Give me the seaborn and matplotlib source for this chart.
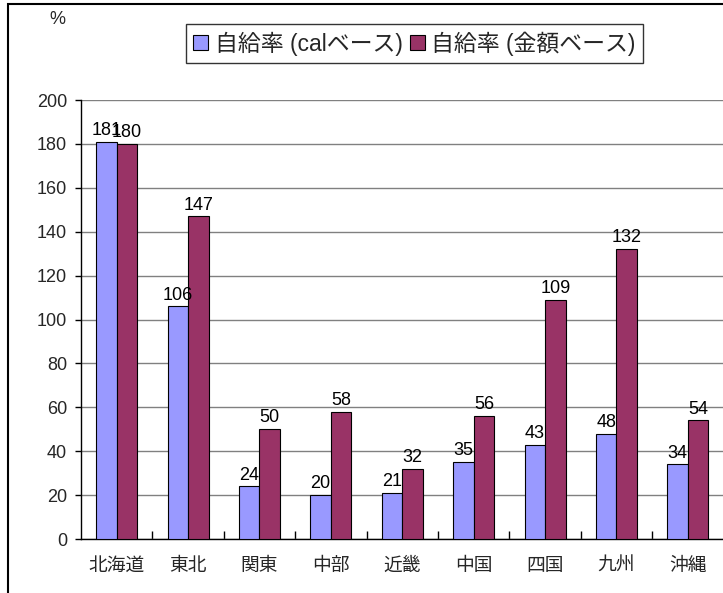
import matplotlib
matplotlib.use("Agg")
import matplotlib.pyplot as plt
from matplotlib.patches import Rectangle
import pandas as pd
import seaborn as sns

# Food self-sufficiency by region (%)
regions = ["北海道", "東北", "関東", "中部", "近畿", "中国", "四国", "九州", "沖縄"]
series_names = ["自給率 (calベース)", "自給率 (金額ベース)"]
cal_basis = [181, 106, 24, 20, 21, 35, 43, 48, 34]
value_basis = [180, 147, 50, 58, 32, 56, 109, 132, 54]
y_ticks = [0, 20, 40, 60, 80, 100, 120, 140, 160, 180, 200]
colors = ["#9999FF", "#993366"]

df = pd.DataFrame({
    "region": regions * 2,
    "value": cal_basis + value_basis,
    "series": [series_names[0]] * len(regions) + [series_names[1]] * len(regions),
})

sns.set_style("white")
plt.rcParams["font.family"] = ["Liberation Sans", "Noto Sans CJK JP"]

W, H = 723, 593
fig = plt.figure(figsize=(W / 100, H / 100), dpi=100)
ax = fig.add_axes([81 / W, (H - 539) / H, 642.5 / W, 439 / H])

sns.barplot(data=df, x="region", y="value", hue="series", order=regions,
            hue_order=series_names, palette=colors, saturation=1,
            width=0.574, gap=0, edgecolor="black", linewidth=0.8, ax=ax,
            zorder=3)

for cont in ax.containers:
    ax.bar_label(cont, fmt="%d", padding=2, fontsize=13, color="black")

ax.set_xlim(-0.5, len(regions) - 0.5)
ax.set_ylim(0, 200)
ax.set_yticks(y_ticks)
ax.yaxis.grid(True, color="#808080", linewidth=1.0, zorder=0)
ax.xaxis.grid(False)
ax.set_xlabel("")
ax.set_ylabel("")

for side in ("top", "right"):
    ax.spines[side].set_visible(False)
for side in ("left", "bottom"):
    ax.spines[side].set_color("black")
    ax.spines[side].set_linewidth(1.0)

ax.tick_params(axis="y", which="major", left=True, direction="out",
               length=4, width=1, color="black", pad=6, labelsize=13)
ax.tick_params(axis="x", which="major", bottom=False, pad=10, labelsize=13.5)
ax.set_xticks([i + 0.5 for i in range(len(regions) - 1)], minor=True)
ax.tick_params(axis="x", which="minor", bottom=True, direction="in",
               length=6, width=1, color="black")

handles, labels = ax.get_legend_handles_labels()
if ax.get_legend() is not None:
    ax.get_legend().remove()
leg = fig.legend(handles, labels, loc="center", ncol=2,
                 bbox_to_anchor=(414.5 / W, 1 - 43.5 / H),
                 fontsize=16.5, frameon=True, fancybox=False, shadow=False,
                 handlelength=0.65, handleheight=0.65, handletextpad=0.3,
                 columnspacing=0.3, borderpad=0.3, borderaxespad=0)
leg.get_frame().set_edgecolor("black")
leg.get_frame().set_linewidth(1.0)

fig.text(57 / W, 1 - 20 / H, "%", ha="center", va="center", fontsize=13)

# Outer chart frame
fig.patches.append(Rectangle((7.5 / W, -0.1), 1.2, 1.1 - 4 / H,
                             transform=fig.transFigure, fill=False,
                             edgecolor="black", linewidth=1.5))

fig.savefig("out.png", dpi=100)
